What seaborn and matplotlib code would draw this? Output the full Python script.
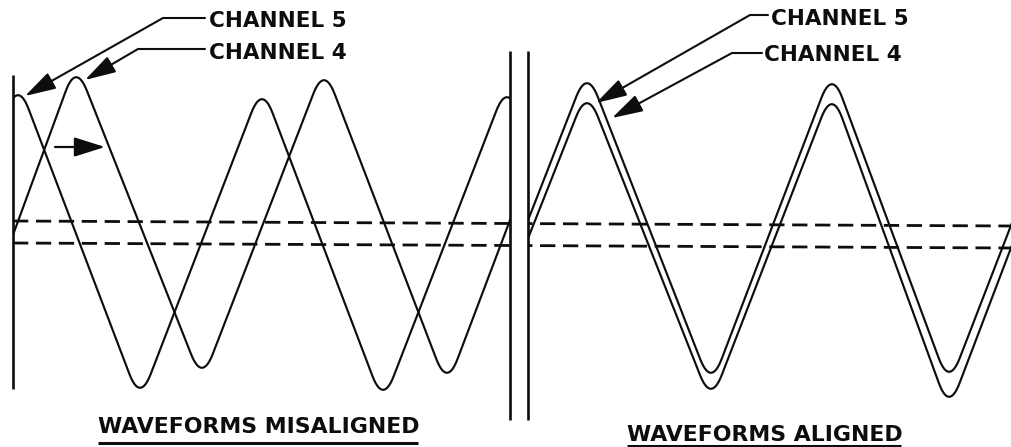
import numpy as np
import matplotlib
matplotlib.use("Agg")
import matplotlib.pyplot as plt
from matplotlib.patches import Rectangle
import seaborn as sns

# ---------------- data (pixel-space drawing units) ----------------
# waveform extrema (x of peak/trough, y of apex); first/last lie outside the frame
left_ch4_x = [-42, 76, 202, 324, 447, 569, 691]
left_ch4_y = [371, 77, 368, 80, 373, 78, 373]
left_ch5_x = [-104, 18, 140, 262, 383, 507, 629]
left_ch5_y = [388, 95, 388, 99, 390, 97, 390]
right_ch4_x = [341, 463, 587, 711, 832, 949, 1071, 1193]
right_ch4_y = [83, 373, 83, 373, 84, 372, 84, 372]
right_ch5_x = [341, 463, 587, 711, 832, 949, 1071, 1193]
right_ch5_y = [103, 389, 103, 389, 104, 397, 104, 397]

# dashed mid-level references (ch4, ch5) across both panels
mid_x = [13, 1011]
mid_ch4_y = [221, 226]
mid_ch5_y = [243, 248]

panel_titles = ["WAVEFORMS MISALIGNED", "WAVEFORMS ALIGNED"]
channel_labels = ["CHANNEL 5", "CHANNEL 4"]

# ---------------- style ----------------
sns.set_theme(style="white")
plt.rcParams["font.family"] = ["DejaVu Sans"]
plt.rcParams["lines.scale_dashes"] = False

W, H = 1011, 447
fig = plt.figure(figsize=(W / 100, H / 100), dpi=100)
ax = fig.add_axes([0, 0, 1, 1])
ax.set_xlim(0, W)
ax.set_ylim(H, 0)
ax.axis("off")

LW = 1.55
INK = "#0d0d0d"


def rounded(xs, ys, r=30, n=14):
    xs = np.asarray(xs, float)
    ys = np.asarray(ys, float)
    vx, vy = xs.copy(), ys.copy()
    m = len(xs)
    for i in range(m):
        nb = [j for j in (i - 1, i + 1) if 0 <= j < m]
        sins = []
        for j in nb:
            dx, dy = xs[j] - xs[i], ys[j] - ys[i]
            sins.append(abs(dy) / np.hypot(dx, dy))
        s = np.mean(sins)
        h = 0.5 * r * s
        direction = -1 if ys[i] < ys[nb[0]] else 1
        vy[i] = ys[i] + direction * h
    px, py = [vx[0]], [vy[0]]
    for i in range(1, m - 1):
        V = np.array([vx[i], vy[i]])
        a = np.array([vx[i - 1], vy[i - 1]]) - V
        b = np.array([vx[i + 1], vy[i + 1]]) - V
        P0 = V + r * a / np.linalg.norm(a)
        P2 = V + r * b / np.linalg.norm(b)
        t = np.linspace(0, 1, n)[:, None]
        pts = (1 - t) ** 2 * P0 + 2 * (1 - t) * t * V + t ** 2 * P2
        px.extend(pts[:, 0])
        py.extend(pts[:, 1])
    px.append(vx[-1])
    py.append(vy[-1])
    return np.array(px), np.array(py)


def left_rect():
    return Rectangle((13, 0), 510 - 13, H, transform=ax.transData)


def right_rect():
    return Rectangle((528, 0), W - 528, H, transform=ax.transData)


for xs, ys, clip in [
    (left_ch4_x, left_ch4_y, left_rect()),
    (left_ch5_x, left_ch5_y, left_rect()),
    (right_ch4_x, right_ch4_y, right_rect()),
    (right_ch5_x, right_ch5_y, right_rect()),
]:
    px, py = rounded(xs, ys)
    sns.lineplot(x=px, y=py, sort=False, estimator=None, color=INK,
                 linewidth=LW, ax=ax)
    ax.lines[-1].set_clip_path(clip)
    ax.lines[-1].set_solid_capstyle("round")

# dashed mid-levels (interrupted between the two panels)
for yy in (mid_ch4_y, mid_ch5_y):
    for clip in (left_rect(), right_rect()):
        ln, = ax.plot(mid_x, yy, color=INK, lw=2.0, dashes=(11, 5.5))
        ln.set_clip_path(clip)

# frame lines
ax.plot([13, 13], [75, 389], color=INK, lw=1.9, solid_capstyle="butt")
ax.plot([510, 510], [51, 420], color=INK, lw=1.9, solid_capstyle="butt")
ax.plot([528, 528], [51, 420], color=INK, lw=1.9, solid_capstyle="butt")

# channel labels with leader arrows
TXT = dict(fontsize=15.5, fontweight="bold", color=INK, va="baseline", ha="left")
labels = [
    # text x, baseline, leader end, elbow, tip
    (channel_labels[0], 209, 27, (205, 18), (163, 18), (25, 96)),
    (channel_labels[1], 209, 59, (205, 49), (138, 49), (85, 80)),
    (channel_labels[0], 771, 25, (768, 15), (750, 15), (596, 103)),
    (channel_labels[1], 764, 61, (762, 53), (732, 53), (612, 118)),
]
for text, tx, ty, p_end, p_elbow, tip in labels:
    ax.text(tx, ty, text, **TXT)
    tipv = np.array(tip, float)
    elb = np.array(p_elbow, float)
    d = (elb - tipv) / np.linalg.norm(elb - tipv)
    back = tipv + d * 30
    ax.plot([p_end[0], p_elbow[0], back[0]], [p_end[1], p_elbow[1], back[1]],
            color=INK, lw=1.5)
    ax.annotate("", xy=tip, xytext=tuple(back),
                arrowprops=dict(arrowstyle="-|>,head_length=1.9,head_width=0.55",
                                mutation_scale=10, color=INK, lw=1.5,
                                shrinkA=0, shrinkB=0))

# shift arrow
ax.annotate("", xy=(105, 147), xytext=(55, 147),
            arrowprops=dict(arrowstyle="-|>,head_length=1.9,head_width=0.6",
                            mutation_scale=10, color=INK, lw=1.6,
                            shrinkA=0, shrinkB=0))

# panel titles with underline
TT = dict(fontsize=15.8, fontweight="bold", color=INK, va="baseline", ha="left")
ax.text(98, 433, panel_titles[0], **TT)
ax.plot([98, 418], [443, 443], color=INK, lw=2.2, solid_capstyle="butt")
ax.text(627, 441, panel_titles[1], **TT)
ax.plot([627, 901], [446, 446], color=INK, lw=2.2, solid_capstyle="butt")

fig.savefig("out.png", dpi=100, facecolor="white")
